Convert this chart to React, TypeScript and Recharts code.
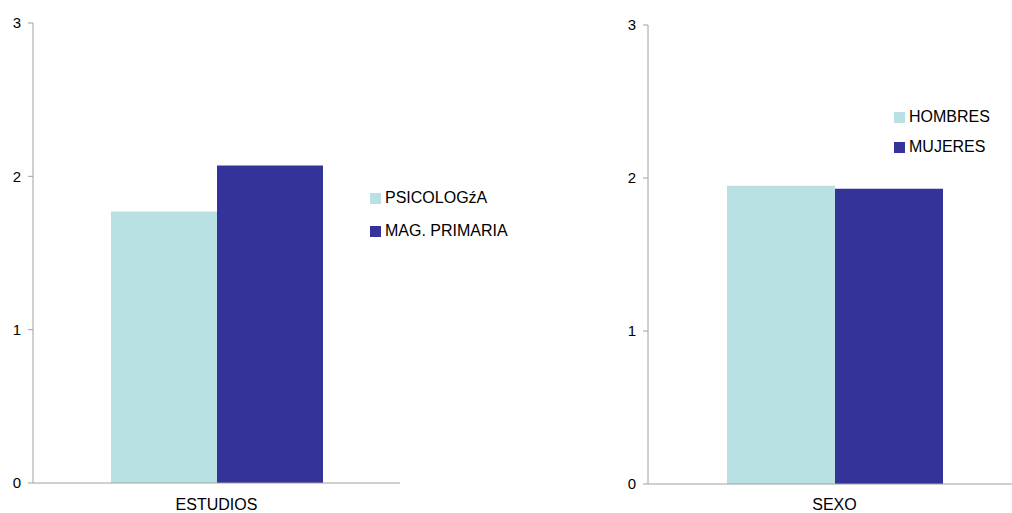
import React from 'react';
import { BarChart, Bar, XAxis, YAxis } from 'recharts';

// values
const estudiosCategories = ['ESTUDIOS'];
const psicologiaValues = [1.77];
const magPrimariaValues = [2.07];

const sexoCategories = ['SEXO'];
const hombresValues = [1.95];
const mujeresValues = [1.93];

const yTicks = [0, 1, 2, 3];

const LIGHT = '#b9e0e3';
const DARK = '#333399';
const AXIS = '#a0a0a0';
const FONT = '"Liberation Sans", Arial, sans-serif';

const estudiosSeries = [
  { key: 'psicologia', name: 'PSICOLOGźA', color: LIGHT },
  { key: 'magPrimaria', name: 'MAG. PRIMARIA', color: DARK }
];
const sexoSeries = [
  { key: 'hombres', name: 'HOMBRES', color: LIGHT },
  { key: 'mujeres', name: 'MUJERES', color: DARK }
];

const estudiosData = estudiosCategories.map((name, i) => ({
  name,
  psicologia: psicologiaValues[i],
  magPrimaria: magPrimariaValues[i]
}));

const sexoData = sexoCategories.map((name, i) => ({
  name,
  hombres: hombresValues[i],
  mujeres: mujeresValues[i]
}));

function SideLegend({ items, left, top, rowGap }: any) {
  return (
    <div style={{ position: 'absolute', left, top, fontFamily: FONT, fontSize: 16, color: '#000' }}>
      {items.map((s: any, i: number) => (
        <div
          key={s.key}
          style={{ display: 'flex', alignItems: 'center', height: 18, marginBottom: i === 0 ? rowGap - 18 : 0 }}
        >
          <span style={{ display: 'inline-block', width: 11, height: 11, background: s.color, marginRight: 4 }} />
          <span style={{ whiteSpace: 'nowrap' }}>{s.name}</span>
        </div>
      ))}
    </div>
  );
}

export default function App() {
  return (
    <div
      style={{
        position: 'fixed',
        left: 0,
        top: 0,
        width: 1012,
        height: 513,
        overflow: 'hidden',
        background: '#fff',
        fontFamily: FONT
      }}
    >
      <div style={{ position: 'absolute', left: 0, top: 0 }}>
        <BarChart
          width={402}
          height={513}
          data={estudiosData}
          margin={{ top: 23, right: 2, left: 0, bottom: 0 }}
          barCategoryGap={78}
          barGap={0}
        >
          <XAxis
            dataKey="name"
            height={30}
            stroke={AXIS}
            tickSize={0}
            tickMargin={16}
            tick={{ fill: '#000', fontSize: 16, fontFamily: FONT }}
          />
          <YAxis
            width={33}
            domain={[0, 3]}
            ticks={yTicks}
            stroke={AXIS}
            tickSize={5}
            tickMargin={7}
            tick={{ fill: '#000', fontSize: 15, fontFamily: FONT }}
          />
          {estudiosSeries.map(s => (
            <Bar key={s.key} dataKey={s.key} name={s.name} fill={s.color} isAnimationActive={false} />
          ))}
        </BarChart>
      </div>
      <SideLegend items={estudiosSeries} left={370} top={189} rowGap={33} />

      <div style={{ position: 'absolute', left: 615, top: 0 }}>
        <BarChart
          width={406}
          height={513}
          data={sexoData}
          margin={{ top: 25, right: 0, left: 0, bottom: 0 }}
          barCategoryGap={79}
          barGap={0}
        >
          <XAxis
            dataKey="name"
            height={29}
            stroke={AXIS}
            tickSize={0}
            tickMargin={15}
            tick={{ fill: '#000', fontSize: 16, fontFamily: FONT }}
          />
          <YAxis
            width={33}
            domain={[0, 3]}
            ticks={yTicks}
            stroke={AXIS}
            tickSize={5}
            tickMargin={7}
            tick={{ fill: '#000', fontSize: 15, fontFamily: FONT }}
          />
          {sexoSeries.map(s => (
            <Bar key={s.key} dataKey={s.key} name={s.name} fill={s.color} isAnimationActive={false} />
          ))}
        </BarChart>
      </div>
      <SideLegend items={sexoSeries} left={894} top={108} rowGap={30} />
    </div>
  );
}
